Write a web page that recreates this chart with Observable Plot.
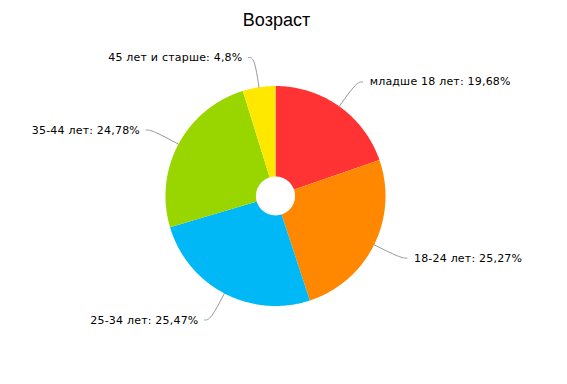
<!DOCTYPE html>
<html>
<head>
<meta charset="utf-8">
<script src="https://cdn.jsdelivr.net/npm/d3@7"></script>
<script src="https://cdn.jsdelivr.net/npm/@observablehq/plot@0.6"></script>
<style>
  html, body { margin: 0; padding: 0; background: #fff; }
  .lbl text { letter-spacing: 0.2px; }
</style>
</head>
<body>
<div id="chart"></div>
<script>
const title = "Возраст";
const categories = ["младше 18 лет", "18-24 лет", "25-34 лет", "35-44 лет", "45 лет и старше"];
const values = [19.68, 25.27, 25.47, 24.78, 4.8];
const valueLabels = ["19,68%", "25,27%", "25,47%", "24,78%", "4,8%"];
const colors = ["#FF3333", "#FF8800", "#00B8F5", "#99D600", "#FFE800"];

const W = 567, H = 384, CX = 275, CY = 195.5, R = 110;
const total = d3.sum(values);

// slice polygons in unit-radius coordinates (angle from 12 o'clock, clockwise)
const slicePts = [];
const connPts = [];
const labels = [];
let acc = 0;
categories.forEach((cat, i) => {
  const a0 = acc / total * 2 * Math.PI;
  acc += values[i];
  const a1 = acc / total * 2 * Math.PI;
  const n = Math.max(4, Math.ceil((a1 - a0) / 0.01));
  slicePts.push({cat, x: 0, y: 0});
  for (let k = 0; k <= n; k++) {
    const a = a0 + (a1 - a0) * k / n;
    slicePts.push({cat, x: Math.sin(a), y: Math.cos(a)});
  }
  const am = (a0 + a1) / 2;
  const right = Math.sin(am) >= 0;
  const rb = (R + 30) / R;
  const bx = rb * Math.sin(am), by = rb * Math.cos(am);
  const ex = bx + (right ? 6 : -6) / R;
  connPts.push({cat, x: Math.sin(am), y: Math.cos(am)});
  connPts.push({cat, x: bx, y: by});
  connPts.push({cat, x: ex, y: by});
  labels.push({text: `${cat}: ${valueLabels[i]}`, x: bx + (right ? 13 : -12) / R, y: by, right});
});

const chart = Plot.plot({
  width: W,
  height: H,
  margin: 0,
  x: {domain: [-CX / R, (W - CX) / R], range: [0, W], axis: null},
  y: {domain: [-(H - CY) / R, CY / R], range: [H, 0], axis: null},
  color: {domain: categories, range: colors},
  style: {fontFamily: "DejaVu Sans, Verdana, sans-serif", background: "#fff"},
  marks: [
    Plot.line(slicePts, {x: "x", y: "y", z: "cat", fill: "cat", stroke: null, curve: "linear-closed"}),
    Plot.dot([{x: 0, y: 0}], {x: "x", y: "y", r: 19.6, fill: "#fff", stroke: null}),
    Plot.line(connPts, {x: "x", y: "y", z: "cat", stroke: "#999", strokeWidth: 1, curve: "basis"}),
    Plot.text(labels.filter(d => d.right), {x: "x", y: "y", text: "text", textAnchor: "start", lineAnchor: "middle", fontSize: 11, fill: "#000", className: "lbl"}),
    Plot.text(labels.filter(d => !d.right), {x: "x", y: "y", text: "text", textAnchor: "end", lineAnchor: "middle", fontSize: 11, fill: "#000", className: "lbl"}),
    Plot.text([title], {frameAnchor: "top", dx: -7.5, dy: 13, lineAnchor: "top", fontSize: 18, fontFamily: "Liberation Sans, Arial, sans-serif", fill: "#000"})
  ]
});
document.getElementById("chart").appendChild(chart);
</script>
</body>
</html>
